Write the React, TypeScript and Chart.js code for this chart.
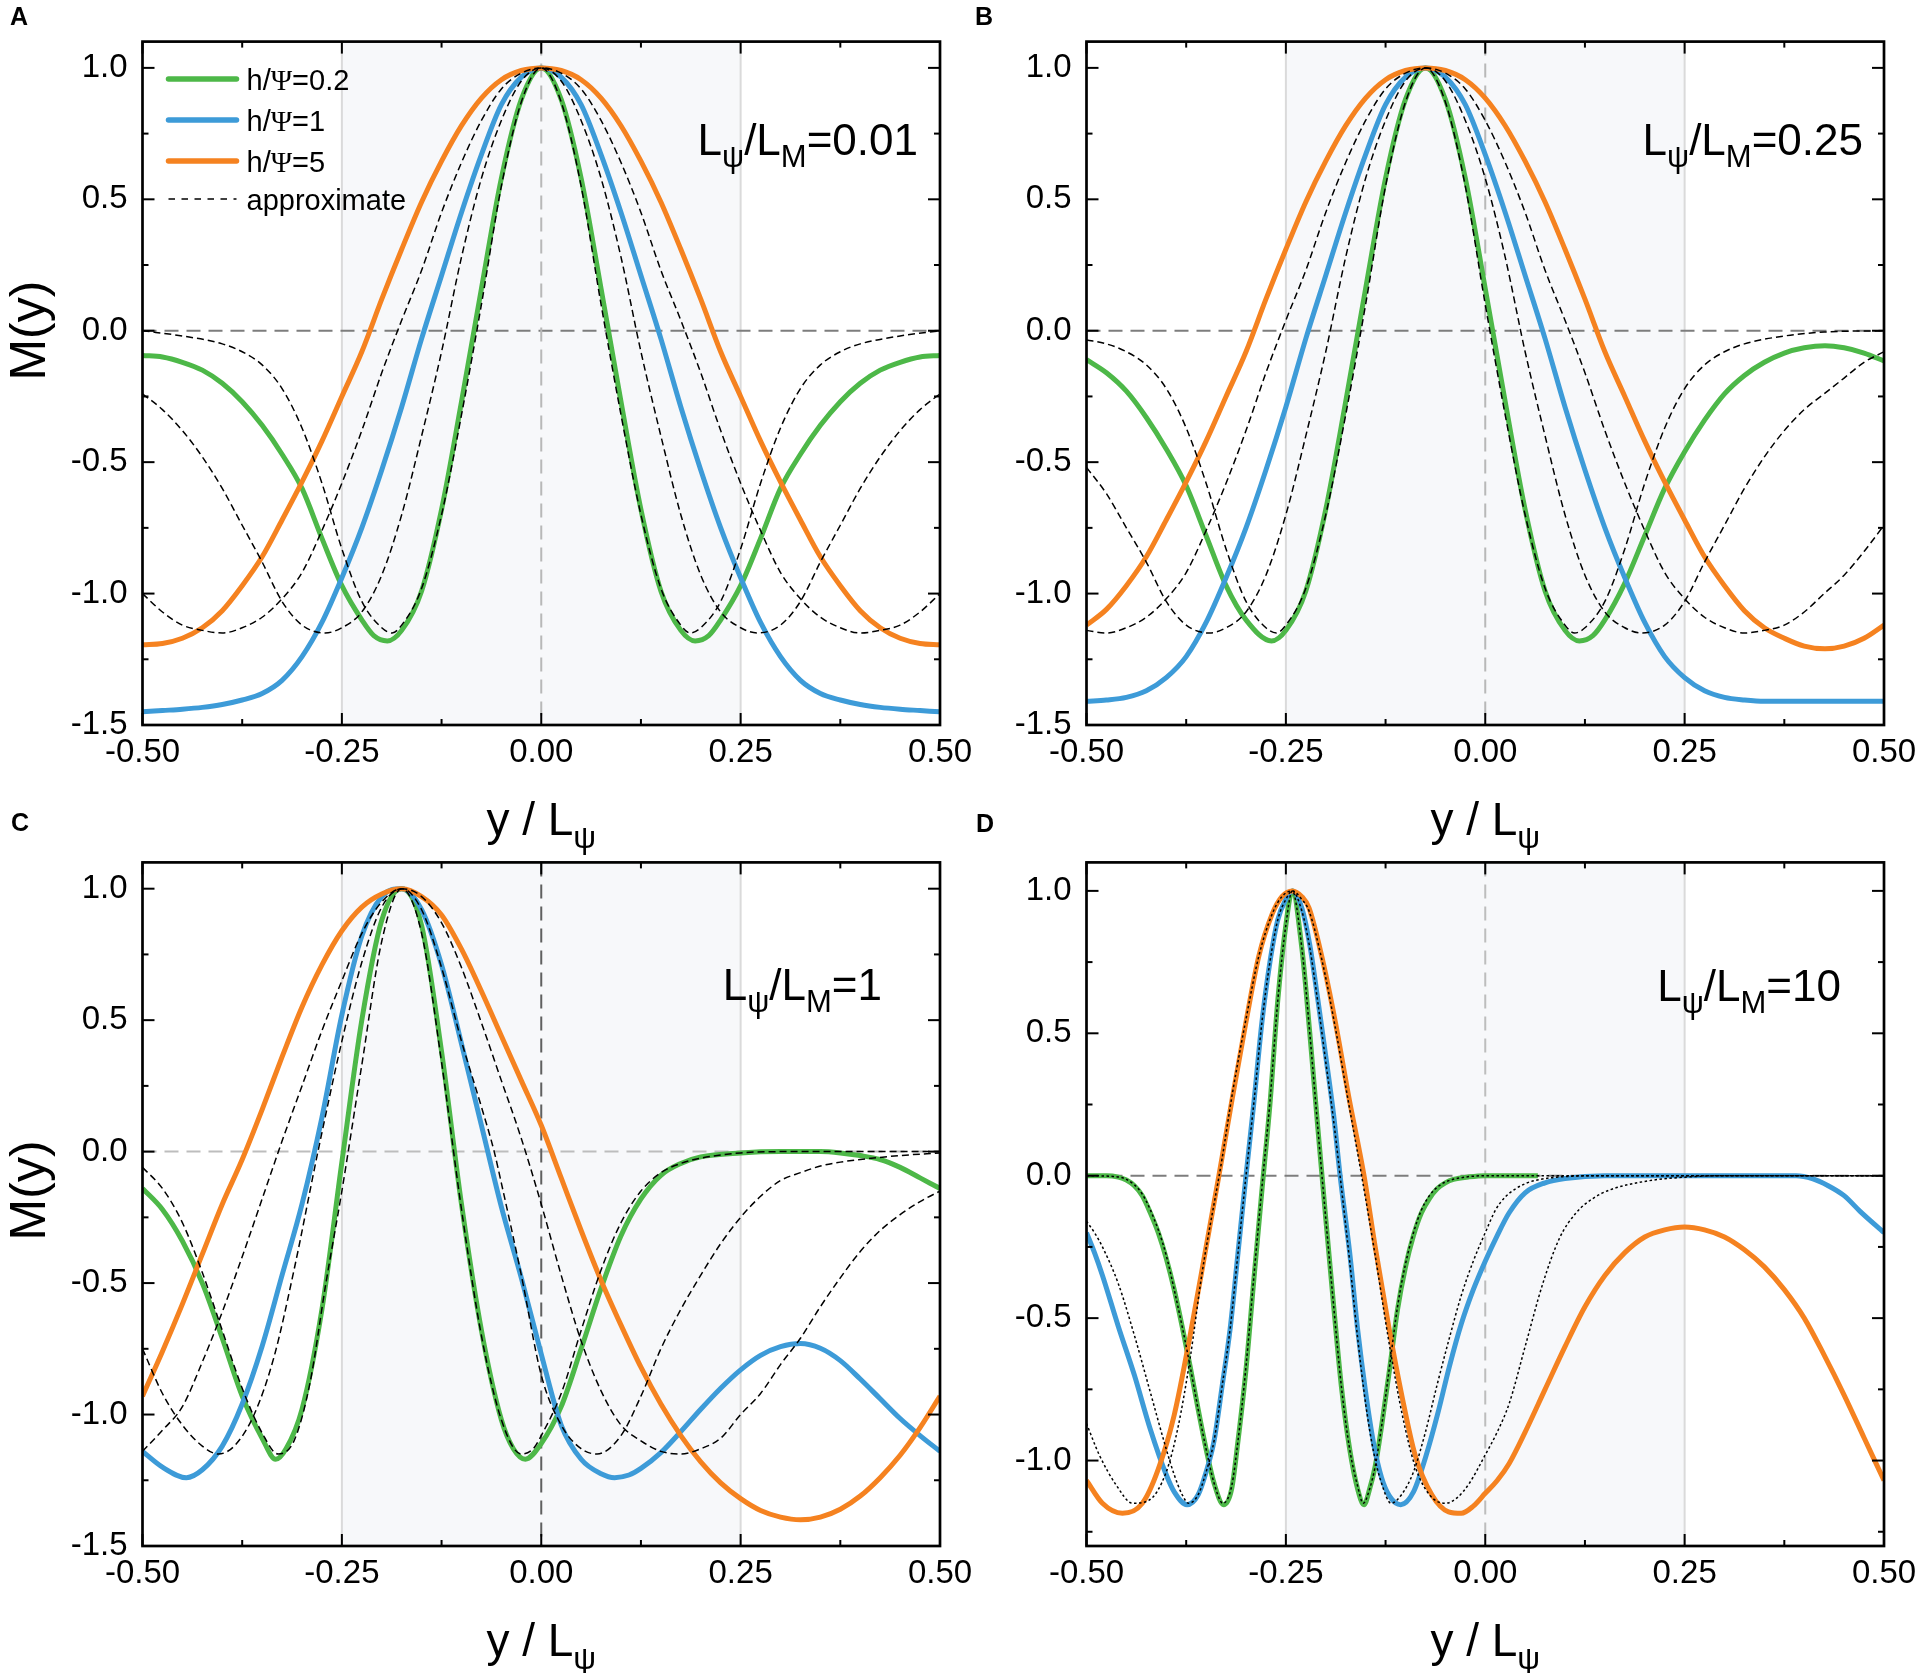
import { useEffect, useRef } from 'react';
import { Chart, registerables } from 'chart.js';
Chart.register(...registerables);

const SANS = "'Liberation Sans', Arial, sans-serif";
const SERIF = "'Liberation Serif', 'Times New Roman', serif";
Chart.defaults.font.family = SANS;

const GREEN = '#4db848';
const BLUE = '#3d9bd8';
const ORANGE = '#f58220';

// axis ticks
const xTicks = [-0.5, -0.25, 0, 0.25, 0.5];
const xMinorTicks = [-0.375, -0.125, 0.125, 0.375];
const yTicks = [-1.5, -1, -0.5, 0, 0.5, 1];
const yTicksD = [-1, -0.5, 0, 0.5, 1];
const yMinorTicks = [-1.25, -0.75, -0.25, 0.25, 0.75];
const bandEdges = [-0.25, 0.25];

// legend / panel labels
const seriesLabels = ['h/Ψ=0.2', 'h/Ψ=1', 'h/Ψ=5'];
const approxLabel = 'approximate';
const ratioLabels = ['0.01', '0.25', '1', '10'];

type Pt = [number, number];

// ---------- panel A : L_psi/L_M = 0.01 ----------
const A_green: Pt[] = [[-0.5,-0.094],[-0.475,-0.1],[-0.45,-0.12],[-0.425,-0.15],[-0.4,-0.2],[-0.375,-0.27],[-0.35,-0.36],[-0.325,-0.47],[-0.3,-0.6],[-0.275,-0.79],[-0.25,-0.97],[-0.225,-1.1],[-0.21,-1.16],[-0.193,-1.18],[-0.175,-1.14],[-0.15,-0.99],[-0.125,-0.68],[-0.1,-0.27],[-0.075,0.16],[-0.05,0.58],[-0.025,0.88],[0,1],[0.025,0.88],[0.05,0.58],[0.075,0.16],[0.1,-0.27],[0.125,-0.68],[0.15,-0.99],[0.175,-1.14],[0.193,-1.18],[0.21,-1.16],[0.225,-1.1],[0.25,-0.97],[0.275,-0.79],[0.3,-0.6],[0.325,-0.47],[0.35,-0.36],[0.375,-0.27],[0.4,-0.2],[0.425,-0.15],[0.45,-0.12],[0.475,-0.1],[0.5,-0.094]];
const A_blue: Pt[] = [[-0.5,-1.45],[-0.475,-1.445],[-0.45,-1.44],[-0.425,-1.433],[-0.4,-1.422],[-0.375,-1.405],[-0.35,-1.38],[-0.325,-1.33],[-0.3,-1.24],[-0.275,-1.11],[-0.25,-0.94],[-0.225,-0.75],[-0.2,-0.53],[-0.175,-0.29],[-0.15,-0.03],[-0.125,0.21],[-0.1,0.45],[-0.075,0.67],[-0.05,0.86],[-0.025,0.965],[0,1],[0.025,0.965],[0.05,0.86],[0.075,0.67],[0.1,0.45],[0.125,0.21],[0.15,-0.03],[0.175,-0.29],[0.2,-0.53],[0.225,-0.75],[0.25,-0.94],[0.275,-1.11],[0.3,-1.24],[0.325,-1.33],[0.35,-1.38],[0.375,-1.405],[0.4,-1.422],[0.425,-1.433],[0.45,-1.44],[0.475,-1.445],[0.5,-1.45]];
const A_orange: Pt[] = [[-0.5,-1.195],[-0.475,-1.19],[-0.45,-1.17],[-0.425,-1.13],[-0.4,-1.065],[-0.375,-0.97],[-0.35,-0.86],[-0.325,-0.72],[-0.3,-0.575],[-0.275,-0.42],[-0.25,-0.25],[-0.225,-0.08],[-0.2,0.12],[-0.175,0.31],[-0.15,0.49],[-0.125,0.645],[-0.1,0.78],[-0.075,0.885],[-0.05,0.955],[-0.025,0.99],[0,1],[0.025,0.99],[0.05,0.955],[0.075,0.885],[0.1,0.78],[0.125,0.645],[0.15,0.49],[0.175,0.31],[0.2,0.12],[0.225,-0.08],[0.25,-0.25],[0.275,-0.42],[0.3,-0.575],[0.325,-0.72],[0.35,-0.86],[0.375,-0.97],[0.4,-1.065],[0.425,-1.13],[0.45,-1.17],[0.475,-1.19],[0.5,-1.195]];
const A_approx1: Pt[] = [[-0.5,0],[-0.45,-0.02],[-0.4,-0.05],[-0.375,-0.08],[-0.35,-0.13],[-0.325,-0.22],[-0.3,-0.37],[-0.275,-0.58],[-0.25,-0.83],[-0.225,-1.03],[-0.2,-1.13],[-0.187,-1.15],[-0.175,-1.12],[-0.15,-0.98],[-0.125,-0.7],[-0.1,-0.32],[-0.075,0.1],[-0.05,0.55],[-0.025,0.87],[0,1],[0.025,0.87],[0.05,0.55],[0.075,0.1],[0.1,-0.32],[0.125,-0.7],[0.15,-0.98],[0.175,-1.12],[0.187,-1.15],[0.2,-1.13],[0.225,-1.03],[0.25,-0.83],[0.275,-0.58],[0.3,-0.37],[0.325,-0.22],[0.35,-0.13],[0.375,-0.08],[0.4,-0.05],[0.45,-0.02],[0.5,0]];
const A_approx2: Pt[] = [[-0.5,-0.24],[-0.475,-0.3],[-0.45,-0.38],[-0.425,-0.48],[-0.4,-0.6],[-0.375,-0.74],[-0.35,-0.88],[-0.325,-1.03],[-0.3,-1.12],[-0.271,-1.15],[-0.25,-1.13],[-0.225,-1.07],[-0.2,-0.93],[-0.175,-0.7],[-0.15,-0.4],[-0.125,-0.08],[-0.1,0.28],[-0.075,0.58],[-0.05,0.8],[-0.025,0.95],[0,1],[0.025,0.95],[0.05,0.8],[0.075,0.58],[0.1,0.28],[0.125,-0.08],[0.15,-0.4],[0.175,-0.7],[0.2,-0.93],[0.225,-1.07],[0.25,-1.13],[0.271,-1.15],[0.3,-1.12],[0.325,-1.03],[0.35,-0.88],[0.375,-0.74],[0.4,-0.6],[0.425,-0.48],[0.45,-0.38],[0.475,-0.3],[0.5,-0.24]];
const A_approx3: Pt[] = [[-0.5,-1.0],[-0.475,-1.07],[-0.45,-1.12],[-0.425,-1.14],[-0.4,-1.15],[-0.375,-1.13],[-0.35,-1.09],[-0.325,-1.02],[-0.3,-0.92],[-0.275,-0.76],[-0.25,-0.58],[-0.225,-0.38],[-0.2,-0.16],[-0.175,0.04],[-0.15,0.23],[-0.125,0.45],[-0.1,0.64],[-0.075,0.8],[-0.05,0.92],[-0.025,0.98],[0,1],[0.025,0.98],[0.05,0.92],[0.075,0.8],[0.1,0.64],[0.125,0.45],[0.15,0.23],[0.175,0.04],[0.2,-0.16],[0.225,-0.38],[0.25,-0.58],[0.275,-0.76],[0.3,-0.92],[0.325,-1.02],[0.35,-1.09],[0.375,-1.13],[0.4,-1.15],[0.425,-1.14],[0.45,-1.12],[0.475,-1.07],[0.5,-1.0]];

// ---------- panel B : L_psi/L_M = 0.25 ----------
const B_green: Pt[] = [[-0.5,-0.11],[-0.475,-0.16],[-0.45,-0.23],[-0.425,-0.33],[-0.4,-0.45],[-0.375,-0.59],[-0.35,-0.78],[-0.325,-0.97],[-0.3,-1.1],[-0.268,-1.18],[-0.25,-1.14],[-0.225,-0.99],[-0.2,-0.68],[-0.175,-0.27],[-0.15,0.16],[-0.125,0.58],[-0.1,0.88],[-0.075,1],[-0.05,0.88],[-0.025,0.58],[0,0.16],[0.025,-0.27],[0.05,-0.68],[0.075,-0.99],[0.1,-1.14],[0.118,-1.18],[0.135,-1.16],[0.15,-1.1],[0.175,-0.96],[0.2,-0.78],[0.225,-0.6],[0.25,-0.46],[0.275,-0.34],[0.3,-0.24],[0.325,-0.17],[0.35,-0.12],[0.375,-0.085],[0.4,-0.065],[0.426,-0.057],[0.45,-0.065],[0.475,-0.085],[0.5,-0.115]];
const B_blue: Pt[] = [[-0.5,-1.41],[-0.475,-1.405],[-0.45,-1.395],[-0.425,-1.37],[-0.4,-1.32],[-0.375,-1.24],[-0.35,-1.11],[-0.325,-0.94],[-0.3,-0.75],[-0.275,-0.53],[-0.25,-0.29],[-0.225,-0.03],[-0.2,0.21],[-0.175,0.45],[-0.15,0.67],[-0.125,0.86],[-0.1,0.965],[-0.075,1],[-0.05,0.965],[-0.025,0.86],[0,0.67],[0.025,0.45],[0.05,0.21],[0.075,-0.03],[0.1,-0.29],[0.125,-0.53],[0.15,-0.75],[0.175,-0.94],[0.2,-1.11],[0.225,-1.24],[0.25,-1.32],[0.275,-1.37],[0.3,-1.395],[0.325,-1.405],[0.35,-1.41],[0.4,-1.41],[0.45,-1.41],[0.5,-1.41]];
const B_orange: Pt[] = [[-0.5,-1.12],[-0.475,-1.06],[-0.45,-0.97],[-0.425,-0.86],[-0.4,-0.72],[-0.375,-0.575],[-0.35,-0.42],[-0.325,-0.25],[-0.3,-0.08],[-0.275,0.12],[-0.25,0.31],[-0.225,0.49],[-0.2,0.645],[-0.175,0.78],[-0.15,0.885],[-0.125,0.955],[-0.1,0.99],[-0.075,1],[-0.05,0.99],[-0.025,0.955],[0,0.885],[0.025,0.78],[0.05,0.645],[0.075,0.49],[0.1,0.31],[0.125,0.12],[0.15,-0.08],[0.175,-0.25],[0.2,-0.42],[0.225,-0.575],[0.25,-0.72],[0.275,-0.86],[0.3,-0.97],[0.325,-1.065],[0.35,-1.13],[0.375,-1.17],[0.4,-1.2],[0.426,-1.21],[0.45,-1.2],[0.475,-1.17],[0.5,-1.12]];
const B_approx1: Pt[] = [[-0.5,-0.035],[-0.475,-0.05],[-0.45,-0.08],[-0.425,-0.13],[-0.4,-0.22],[-0.375,-0.37],[-0.35,-0.58],[-0.325,-0.83],[-0.3,-1.03],[-0.275,-1.13],[-0.262,-1.15],[-0.25,-1.12],[-0.225,-0.98],[-0.2,-0.7],[-0.175,-0.32],[-0.15,0.1],[-0.125,0.55],[-0.1,0.87],[-0.075,1],[-0.05,0.87],[-0.025,0.55],[0,0.1],[0.025,-0.32],[0.05,-0.7],[0.075,-0.98],[0.1,-1.12],[0.112,-1.15],[0.125,-1.13],[0.15,-1.03],[0.175,-0.83],[0.2,-0.58],[0.225,-0.37],[0.25,-0.22],[0.275,-0.13],[0.3,-0.08],[0.325,-0.05],[0.375,-0.02],[0.425,-0.005],[0.5,0]];
const B_approx2: Pt[] = [[-0.5,-0.52],[-0.475,-0.62],[-0.45,-0.75],[-0.425,-0.88],[-0.4,-1.03],[-0.375,-1.12],[-0.346,-1.15],[-0.325,-1.13],[-0.3,-1.07],[-0.275,-0.93],[-0.25,-0.7],[-0.225,-0.4],[-0.2,-0.08],[-0.175,0.28],[-0.15,0.58],[-0.125,0.8],[-0.1,0.95],[-0.075,1],[-0.05,0.95],[-0.025,0.8],[0,0.58],[0.025,0.28],[0.05,-0.08],[0.075,-0.4],[0.1,-0.7],[0.125,-0.93],[0.15,-1.07],[0.175,-1.13],[0.196,-1.15],[0.225,-1.12],[0.25,-1.03],[0.275,-0.88],[0.3,-0.74],[0.325,-0.6],[0.35,-0.48],[0.375,-0.38],[0.4,-0.3],[0.425,-0.24],[0.45,-0.18],[0.475,-0.12],[0.5,-0.08]];
const B_approx3: Pt[] = [[-0.5,-1.14],[-0.475,-1.15],[-0.45,-1.13],[-0.425,-1.09],[-0.4,-1.02],[-0.375,-0.92],[-0.35,-0.76],[-0.325,-0.58],[-0.3,-0.38],[-0.275,-0.16],[-0.25,0.04],[-0.225,0.23],[-0.2,0.45],[-0.175,0.64],[-0.15,0.8],[-0.125,0.92],[-0.1,0.98],[-0.075,1],[-0.05,0.98],[-0.025,0.92],[0,0.8],[0.025,0.64],[0.05,0.45],[0.075,0.23],[0.1,0.04],[0.125,-0.16],[0.15,-0.38],[0.175,-0.58],[0.2,-0.76],[0.225,-0.92],[0.25,-1.02],[0.275,-1.09],[0.3,-1.13],[0.325,-1.15],[0.35,-1.14],[0.375,-1.12],[0.4,-1.07],[0.425,-1.0],[0.45,-0.93],[0.475,-0.84],[0.5,-0.74]];

// ---------- panel C : L_psi/L_M = 1 ----------
const C_green: Pt[] = [[-0.5,-0.14],[-0.475,-0.22],[-0.45,-0.34],[-0.425,-0.5],[-0.4,-0.71],[-0.375,-0.93],[-0.35,-1.09],[-0.333,-1.17],[-0.32,-1.13],[-0.3,-0.98],[-0.275,-0.6],[-0.25,-0.04],[-0.225,0.5],[-0.2,0.88],[-0.175,1],[-0.15,0.86],[-0.125,0.38],[-0.1,-0.2],[-0.075,-0.68],[-0.05,-1.02],[-0.035,-1.13],[-0.02,-1.17],[0,-1.11],[0.025,-0.97],[0.05,-0.75],[0.075,-0.52],[0.1,-0.32],[0.125,-0.18],[0.15,-0.09],[0.175,-0.045],[0.2,-0.02],[0.25,-0.005],[0.3,0],[0.35,0],[0.375,-0.005],[0.4,-0.015],[0.425,-0.03],[0.45,-0.06],[0.475,-0.1],[0.5,-0.14]];
const C_blue: Pt[] = [[-0.5,-1.14],[-0.475,-1.2],[-0.445,-1.24],[-0.425,-1.21],[-0.4,-1.12],[-0.375,-0.96],[-0.35,-0.74],[-0.325,-0.47],[-0.3,-0.2],[-0.275,0.13],[-0.25,0.52],[-0.225,0.82],[-0.2,0.97],[-0.175,1],[-0.15,0.92],[-0.125,0.71],[-0.1,0.41],[-0.075,0.1],[-0.05,-0.21],[-0.025,-0.48],[0,-0.77],[0.025,-1.04],[0.05,-1.17],[0.075,-1.225],[0.092,-1.24],[0.11,-1.23],[0.125,-1.205],[0.15,-1.145],[0.175,-1.065],[0.2,-0.98],[0.225,-0.9],[0.25,-0.83],[0.275,-0.775],[0.3,-0.742],[0.325,-0.73],[0.35,-0.748],[0.375,-0.795],[0.4,-0.865],[0.425,-0.94],[0.45,-1.015],[0.475,-1.08],[0.5,-1.14]];
const C_orange: Pt[] = [[-0.5,-0.93],[-0.475,-0.76],[-0.45,-0.58],[-0.425,-0.39],[-0.4,-0.2],[-0.375,-0.03],[-0.35,0.16],[-0.325,0.36],[-0.3,0.55],[-0.275,0.71],[-0.25,0.84],[-0.225,0.93],[-0.2,0.98],[-0.175,1],[-0.15,0.97],[-0.125,0.9],[-0.1,0.77],[-0.075,0.61],[-0.05,0.44],[-0.025,0.27],[0,0.1],[0.025,-0.1],[0.05,-0.3],[0.075,-0.49],[0.1,-0.66],[0.125,-0.82],[0.15,-0.96],[0.175,-1.08],[0.2,-1.18],[0.225,-1.26],[0.25,-1.32],[0.275,-1.365],[0.3,-1.39],[0.325,-1.4],[0.35,-1.39],[0.375,-1.36],[0.4,-1.31],[0.425,-1.24],[0.45,-1.155],[0.475,-1.05],[0.5,-0.93]];
const C_approx1: Pt[] = [[-0.5,-0.06],[-0.475,-0.14],[-0.45,-0.27],[-0.425,-0.46],[-0.4,-0.68],[-0.375,-0.9],[-0.35,-1.07],[-0.33,-1.15],[-0.31,-1.1],[-0.29,-0.88],[-0.27,-0.5],[-0.25,-0.15],[-0.225,0.33],[-0.2,0.8],[-0.175,1],[-0.15,0.83],[-0.125,0.34],[-0.1,-0.22],[-0.075,-0.7],[-0.05,-1.02],[-0.025,-1.15],[-0.01,-1.13],[0,-1.08],[0.025,-0.92],[0.05,-0.68],[0.075,-0.45],[0.1,-0.27],[0.125,-0.15],[0.15,-0.08],[0.175,-0.045],[0.2,-0.025],[0.25,-0.005],[0.3,0],[0.5,0]];
const C_approx2: Pt[] = [[-0.5,-0.75],[-0.475,-0.92],[-0.45,-1.04],[-0.425,-1.12],[-0.405,-1.15],[-0.385,-1.12],[-0.36,-1.0],[-0.335,-0.78],[-0.31,-0.45],[-0.28,0],[-0.25,0.42],[-0.225,0.72],[-0.2,0.93],[-0.175,1],[-0.15,0.92],[-0.125,0.7],[-0.1,0.42],[-0.075,0.17],[-0.059,0],[-0.05,-0.12],[-0.025,-0.47],[0,-0.85],[0.025,-1.04],[0.05,-1.13],[0.07,-1.15],[0.1,-1.08],[0.125,-0.93],[0.15,-0.75],[0.175,-0.6],[0.2,-0.47],[0.225,-0.35],[0.25,-0.25],[0.275,-0.17],[0.3,-0.11],[0.325,-0.08],[0.35,-0.055],[0.375,-0.04],[0.4,-0.03],[0.45,-0.015],[0.5,-0.005]];
const C_approx3: Pt[] = [[-0.5,-1.14],[-0.475,-1.06],[-0.45,-0.97],[-0.425,-0.8],[-0.4,-0.61],[-0.375,-0.4],[-0.35,-0.18],[-0.325,0.04],[-0.3,0.25],[-0.275,0.46],[-0.25,0.65],[-0.225,0.83],[-0.2,0.95],[-0.175,1],[-0.15,0.97],[-0.125,0.87],[-0.1,0.7],[-0.075,0.49],[-0.05,0.27],[-0.025,0.05],[0,-0.2],[0.025,-0.47],[0.05,-0.72],[0.075,-0.91],[0.1,-1.04],[0.125,-1.1],[0.15,-1.14],[0.175,-1.15],[0.2,-1.13],[0.225,-1.09],[0.25,-1.0],[0.275,-0.92],[0.3,-0.81],[0.325,-0.71],[0.35,-0.59],[0.375,-0.48],[0.4,-0.38],[0.425,-0.3],[0.45,-0.24],[0.475,-0.19],[0.5,-0.15]];

// ---------- panel D : L_psi/L_M = 10 ----------
const D_green: Pt[] = [[-0.5,0],[-0.475,0],[-0.46,-0.005],[-0.45,-0.015],[-0.44,-0.035],[-0.43,-0.07],[-0.42,-0.13],[-0.41,-0.2],[-0.4,-0.29],[-0.39,-0.4],[-0.38,-0.53],[-0.37,-0.67],[-0.36,-0.82],[-0.35,-0.96],[-0.34,-1.08],[-0.328,-1.155],[-0.318,-1.1],[-0.31,-0.93],[-0.3,-0.68],[-0.29,-0.36],[-0.28,-0.05],[-0.27,0.25],[-0.26,0.62],[-0.25,0.88],[-0.242,1],[-0.23,0.8],[-0.22,0.5],[-0.21,0.17],[-0.2,-0.15],[-0.19,-0.46],[-0.18,-0.75],[-0.17,-0.96],[-0.16,-1.1],[-0.152,-1.155],[-0.145,-1.1],[-0.138,-1.02],[-0.13,-0.88],[-0.12,-0.68],[-0.11,-0.47],[-0.1,-0.32],[-0.09,-0.21],[-0.08,-0.13],[-0.07,-0.08],[-0.06,-0.045],[-0.05,-0.025],[-0.04,-0.013],[-0.02,-0.004],[0,0],[0.066,0]];
const D_blue: Pt[] = [[-0.5,-0.2],[-0.49,-0.27],[-0.48,-0.35],[-0.46,-0.53],[-0.44,-0.7],[-0.42,-0.89],[-0.4,-1.05],[-0.39,-1.11],[-0.374,-1.155],[-0.36,-1.12],[-0.35,-1.04],[-0.34,-0.93],[-0.33,-0.74],[-0.32,-0.54],[-0.31,-0.27],[-0.3,0],[-0.29,0.26],[-0.28,0.54],[-0.27,0.75],[-0.26,0.9],[-0.25,0.97],[-0.242,1],[-0.23,0.94],[-0.22,0.81],[-0.21,0.62],[-0.2,0.42],[-0.19,0.21],[-0.182,0],[-0.17,-0.27],[-0.16,-0.54],[-0.15,-0.76],[-0.14,-0.94],[-0.13,-1.06],[-0.12,-1.125],[-0.106,-1.155],[-0.09,-1.11],[-0.075,-0.99],[-0.06,-0.84],[-0.045,-0.67],[-0.03,-0.52],[-0.015,-0.4],[0,-0.3],[0.015,-0.21],[0.03,-0.13],[0.05,-0.06],[0.075,-0.025],[0.1,-0.01],[0.15,0],[0.39,0],[0.41,-0.01],[0.43,-0.035],[0.45,-0.07],[0.47,-0.125],[0.5,-0.2]];
const D_orange: Pt[] = [[-0.5,-1.07],[-0.48,-1.15],[-0.455,-1.185],[-0.43,-1.15],[-0.41,-1.03],[-0.39,-0.84],[-0.37,-0.56],[-0.35,-0.25],[-0.334,0],[-0.317,0.275],[-0.3,0.54],[-0.284,0.77],[-0.267,0.92],[-0.255,0.98],[-0.242,1],[-0.23,0.98],[-0.221,0.94],[-0.205,0.77],[-0.188,0.54],[-0.171,0.275],[-0.152,0],[-0.138,-0.25],[-0.121,-0.53],[-0.104,-0.78],[-0.088,-0.98],[-0.067,-1.12],[-0.046,-1.18],[-0.03,-1.185],[-0.015,-1.16],[0,-1.115],[0.015,-1.07],[0.03,-1.01],[0.05,-0.9],[0.075,-0.75],[0.1,-0.6],[0.125,-0.46],[0.15,-0.35],[0.175,-0.27],[0.2,-0.215],[0.225,-0.19],[0.25,-0.18],[0.275,-0.19],[0.3,-0.215],[0.325,-0.26],[0.35,-0.32],[0.375,-0.4],[0.4,-0.5],[0.425,-0.63],[0.45,-0.77],[0.475,-0.92],[0.5,-1.07]];
const D_approx1: Pt[] = [[-0.5,0],[-0.47,-0.002],[-0.45,-0.013],[-0.43,-0.065],[-0.41,-0.19],[-0.4,-0.28],[-0.39,-0.4],[-0.38,-0.53],[-0.37,-0.67],[-0.36,-0.82],[-0.35,-0.96],[-0.34,-1.08],[-0.329,-1.15],[-0.318,-1.09],[-0.31,-0.93],[-0.3,-0.67],[-0.29,-0.35],[-0.28,-0.04],[-0.27,0.26],[-0.26,0.62],[-0.25,0.88],[-0.242,1],[-0.23,0.8],[-0.22,0.5],[-0.21,0.17],[-0.2,-0.15],[-0.19,-0.46],[-0.18,-0.75],[-0.17,-0.96],[-0.16,-1.09],[-0.153,-1.15],[-0.145,-1.1],[-0.138,-1.02],[-0.13,-0.88],[-0.12,-0.67],[-0.11,-0.46],[-0.1,-0.31],[-0.09,-0.2],[-0.08,-0.12],[-0.07,-0.07],[-0.06,-0.04],[-0.05,-0.022],[-0.03,-0.007],[0,0],[0.5,0]];
const D_approx2: Pt[] = [[-0.5,-0.16],[-0.49,-0.2],[-0.48,-0.25],[-0.46,-0.38],[-0.44,-0.56],[-0.42,-0.76],[-0.4,-0.96],[-0.39,-1.05],[-0.38,-1.12],[-0.372,-1.15],[-0.36,-1.12],[-0.35,-1.04],[-0.34,-0.93],[-0.33,-0.74],[-0.32,-0.54],[-0.31,-0.27],[-0.3,0],[-0.29,0.26],[-0.28,0.54],[-0.27,0.75],[-0.26,0.9],[-0.25,0.97],[-0.242,1],[-0.23,0.93],[-0.22,0.8],[-0.21,0.61],[-0.2,0.4],[-0.19,0.19],[-0.18,-0.05],[-0.17,-0.3],[-0.16,-0.57],[-0.15,-0.8],[-0.14,-0.97],[-0.13,-1.08],[-0.118,-1.15],[-0.105,-1.12],[-0.09,-1.04],[-0.075,-0.9],[-0.06,-0.73],[-0.045,-0.57],[-0.03,-0.42],[-0.015,-0.3],[0,-0.2],[0.013,-0.12],[0.025,-0.075],[0.05,-0.028],[0.075,-0.01],[0.1,-0.003],[0.15,0],[0.5,0]];
const D_approx3: Pt[] = [[-0.5,-0.87],[-0.484,-0.98],[-0.463,-1.085],[-0.442,-1.15],[-0.422,-1.14],[-0.4,-1.04],[-0.385,-0.88],[-0.37,-0.64],[-0.355,-0.34],[-0.33,0.06],[-0.317,0.29],[-0.3,0.55],[-0.284,0.77],[-0.267,0.92],[-0.255,0.98],[-0.242,1],[-0.23,0.97],[-0.221,0.93],[-0.205,0.76],[-0.188,0.52],[-0.171,0.25],[-0.155,0],[-0.138,-0.28],[-0.121,-0.58],[-0.104,-0.84],[-0.088,-1.02],[-0.07,-1.12],[-0.05,-1.15],[-0.035,-1.13],[-0.02,-1.08],[0,-0.98],[0.015,-0.9],[0.03,-0.8],[0.05,-0.6],[0.072,-0.38],[0.093,-0.22],[0.114,-0.13],[0.135,-0.08],[0.156,-0.05],[0.2,-0.02],[0.25,-0.005],[0.3,0],[0.5,0]];

type Panel = {
  letter: string;
  left: number; top: number; w: number; h: number;
  padTop: number; padRight: number; yAxisW: number; xAxisH: number;
  yMin: number; yMajor: number[];
  green: Pt[]; blue: Pt[]; orange: Pt[]; approx: Pt[][];
  approxDash: number[];
  ratio: string; noteRight: number; noteTop: number;
  yTitleY: number | null; legend: boolean;
  hZero: string; vZero: string;
  letterPos: [number, number];
};

const PANELS: Panel[] = [
  { letter: 'A', left: 0, top: 0, w: 1000, h: 860, padTop: 41.6, padRight: 60, yAxisW: 142.5, xAxisH: 135,
    yMin: -1.5, yMajor: yTicks, green: A_green, blue: A_blue, orange: A_orange, approx: [A_approx1, A_approx2, A_approx3],
    approxDash: [7, 4], ratio: ratioLabels[0], noteRight: 22, noteTop: 113, yTitleY: 289, legend: true,
    hZero: '#7d7d7d', vZero: '#b8b8b8', letterPos: [10, 4] },
  { letter: 'B', left: 944, top: 0, w: 982, h: 860, padTop: 41.6, padRight: 42, yAxisW: 142.5, xAxisH: 135,
    yMin: -1.5, yMajor: yTicks, green: B_green, blue: B_blue, orange: B_orange, approx: [B_approx1, B_approx2, B_approx3],
    approxDash: [7, 4], ratio: ratioLabels[1], noteRight: 21, noteTop: 113, yTitleY: null, legend: false,
    hZero: '#7d7d7d', vZero: '#b8b8b8', letterPos: [975, 4] },
  { letter: 'C', left: 0, top: 820, w: 1000, h: 853, padTop: 42.4, padRight: 60, yAxisW: 142.5, xAxisH: 127,
    yMin: -1.5, yMajor: yTicks, green: C_green, blue: C_blue, orange: C_orange, approx: [C_approx1, C_approx2, C_approx3],
    approxDash: [7, 4], ratio: ratioLabels[2], noteRight: 58, noteTop: 138, yTitleY: 328, legend: false,
    hZero: '#bdbdbd', vZero: '#606060', letterPos: [11, 810] },
  { letter: 'D', left: 944, top: 820, w: 982, h: 853, padTop: 42.4, padRight: 42, yAxisW: 142.5, xAxisH: 127,
    yMin: -1.3, yMajor: yTicksD, green: D_green, blue: D_blue, orange: D_orange, approx: [D_approx1, D_approx2, D_approx3],
    approxDash: [2.5, 2.5], ratio: ratioLabels[3], noteRight: 43, noteTop: 139, yTitleY: null, legend: false,
    hZero: '#7d7d7d', vZero: '#bdbdbd', letterPos: [976, 811] },
];

type Part = { t: string; font: string; dy?: number };

function drawRich(ctx: CanvasRenderingContext2D, parts: Part[], x: number, y: number, align: 'left' | 'center' | 'right') {
  const widths = parts.map((p) => { ctx.font = p.font; return ctx.measureText(p.t).width; });
  const total = widths.reduce((s, v) => s + v, 0);
  let cx = align === 'right' ? x - total : align === 'center' ? x - total / 2 : x;
  ctx.textAlign = 'left';
  ctx.textBaseline = 'alphabetic';
  parts.forEach((p, i) => {
    ctx.font = p.font;
    ctx.fillText(p.t, cx, y + (p.dy || 0));
    cx += widths[i];
  });
}

function seg(ctx: CanvasRenderingContext2D, x0: number, y0: number, x1: number, y1: number) {
  ctx.beginPath();
  ctx.moveTo(x0, y0);
  ctx.lineTo(x1, y1);
  ctx.stroke();
}

function makeDecor(p: Panel) {
  return {
    id: 'decor',
    beforeDatasetsDraw(chart: any) {
      const { ctx, chartArea: a, scales } = chart;
      const x = scales.x, y = scales.y;
      ctx.save();
      const b0 = x.getPixelForValue(bandEdges[0]);
      const b1 = x.getPixelForValue(bandEdges[1]);
      ctx.fillStyle = '#f7f8fa';
      ctx.fillRect(b0, a.top, b1 - b0, a.bottom - a.top);
      ctx.strokeStyle = '#dadada';
      ctx.lineWidth = 2;
      bandEdges.forEach((v) => { const px = x.getPixelForValue(v); seg(ctx, px, a.top, px, a.bottom); });
      ctx.lineWidth = 2;
      ctx.setLineDash([14, 8]);
      const y0 = y.getPixelForValue(0);
      ctx.strokeStyle = p.hZero;
      seg(ctx, a.left, y0, a.right, y0);
      const x0 = x.getPixelForValue(0);
      ctx.strokeStyle = p.vZero;
      seg(ctx, x0, a.top, x0, a.bottom);
      ctx.restore();
    },
    afterDatasetsDraw(chart: any) {
      const { ctx, chartArea: a, scales } = chart;
      const x = scales.x, y = scales.y;
      ctx.save();
      // frame
      ctx.strokeStyle = '#000';
      ctx.lineWidth = 2.7;
      ctx.strokeRect(a.left, a.top, a.right - a.left, a.bottom - a.top);
      // inward ticks on all sides
      ctx.lineWidth = 2;
      const xt = (vals: number[], len: number) => vals.forEach((v) => {
        const px = x.getPixelForValue(v);
        seg(ctx, px, a.bottom, px, a.bottom - len);
        seg(ctx, px, a.top, px, a.top + len);
      });
      const yt = (vals: number[], len: number) => vals.forEach((v) => {
        if (v < p.yMin || v > 1.1) return;
        const py = y.getPixelForValue(v);
        seg(ctx, a.left, py, a.left + len, py);
        seg(ctx, a.right, py, a.right - len, py);
      });
      xt(xTicks, 12); xt(xMinorTicks, 6);
      yt(p.yMajor, 12); yt(yMinorTicks, 6);

      ctx.fillStyle = '#000';
      // ratio annotation
      drawRich(ctx, [
        { t: 'L', font: `44px ${SANS}` },
        { t: 'ψ', font: `31px ${SANS}`, dy: 12 },
        { t: '/L', font: `44px ${SANS}` },
        { t: 'M', font: `31px ${SANS}`, dy: 12 },
        { t: '=' + p.ratio, font: `44px ${SANS}` },
      ], a.right - p.noteRight, a.top + p.noteTop, 'right');

      // x axis title
      drawRich(ctx, [
        { t: 'y / L', font: `46px ${SANS}` },
        { t: 'ψ', font: `32px ${SANS}`, dy: 13 },
      ], (a.left + a.right) / 2, a.bottom + 110, 'center');

      // y axis title
      if (p.yTitleY !== null) {
        ctx.save();
        ctx.translate(31, a.top + p.yTitleY);
        ctx.rotate(-Math.PI / 2);
        ctx.font = `50px ${SANS}`;
        ctx.textAlign = 'center';
        ctx.textBaseline = 'middle';
        ctx.fillText('M(y)', 0, 0);
        ctx.restore();
      }

      // legend
      if (p.legend) {
        const rows = [
          { color: GREEN, dash: [] as number[], width: 5.5, label: seriesLabels[0] },
          { color: BLUE, dash: [] as number[], width: 5.5, label: seriesLabels[1] },
          { color: ORANGE, dash: [] as number[], width: 5.5, label: seriesLabels[2] },
          { color: '#000', dash: [6.5, 6.5], width: 1.6, label: approxLabel },
        ];
        const rowY = [37.4, 78.4, 119.4, 157.4];
        rows.forEach((r, i) => {
          const cy = a.top + rowY[i];
          ctx.save();
          ctx.strokeStyle = r.color;
          ctx.lineWidth = r.width;
          ctx.lineCap = r.dash.length ? 'butt' : 'round';
          ctx.setLineDash(r.dash);
          seg(ctx, a.left + 26, cy, a.left + 94, cy);
          ctx.restore();
          const m = r.label.match(/^(h\/)(Ψ)(.*)$/);
          const parts: Part[] = m
            ? [{ t: m[1], font: `29px ${SANS}` }, { t: m[2], font: `29px ${SERIF}` }, { t: m[3], font: `29px ${SANS}` }]
            : [{ t: r.label, font: `29px ${SANS}` }];
          drawRich(ctx, parts, a.left + 104, cy + 10.5, 'left');
        });
      }
      ctx.restore();
    },
  };
}

function makeConfig(p: Panel): any {
  const pts = (d: Pt[]) => d.map(([x, y]) => ({ x, y }));
  const approxSets = p.approx.map((d) => ({
    label: approxLabel, data: pts(d), borderColor: '#000', borderWidth: 1.5, borderDash: p.approxDash,
  }));
  const solid = (d: Pt[], color: string, label: string) => ({ label, data: pts(d), borderColor: color, borderWidth: 5 });
  return {
    type: 'line',
    data: {
      datasets: [
        ...approxSets,
        solid(p.orange, ORANGE, seriesLabels[2]),
        solid(p.blue, BLUE, seriesLabels[1]),
        solid(p.green, GREEN, seriesLabels[0]),
      ],
    },
    options: {
      animation: false,
      responsive: false,
      devicePixelRatio: 1,
      layout: { padding: { left: 0, top: p.padTop, right: p.padRight, bottom: 0 } },
      elements: {
        point: { radius: 0 },
        line: { cubicInterpolationMode: 'monotone', fill: false, borderCapStyle: 'butt' },
      },
      plugins: { legend: { display: false }, tooltip: { enabled: false } },
      scales: {
        x: {
          type: 'linear', min: -0.5, max: 0.5,
          grid: { display: false, drawTicks: false },
          border: { display: false },
          ticks: {
            color: '#000', padding: 8, maxRotation: 0, autoSkip: false,
            font: { size: 33, family: SANS },
            callback: (v: number) => Number(v).toFixed(2),
          },
          afterBuildTicks: (s: any) => { s.ticks = xTicks.map((value) => ({ value })); },
          afterFit: (s: any) => { s.height = p.xAxisH; s.paddingLeft = 0; s.paddingRight = 0; },
        },
        y: {
          type: 'linear', min: p.yMin, max: 1.1,
          grid: { display: false, drawTicks: false },
          border: { display: false },
          ticks: {
            color: '#000', padding: 15, autoSkip: false,
            font: { size: 33, family: SANS },
            callback: (v: number) => Number(v).toFixed(1),
          },
          afterBuildTicks: (s: any) => { s.ticks = p.yMajor.map((value) => ({ value })); },
          afterFit: (s: any) => { s.width = p.yAxisW; s.paddingTop = 0; s.paddingBottom = 0; },
        },
      },
    },
    plugins: [makeDecor(p)],
  };
}

function PanelChart({ p }: { p: Panel }) {
  const canvasRef = useRef<HTMLCanvasElement>(null);
  useEffect(() => {
    if (!canvasRef.current) return;
    const chart = new Chart(canvasRef.current, makeConfig(p));
    return () => chart.destroy();
  }, [p]);
  return (
    <canvas
      ref={canvasRef}
      width={p.w}
      height={p.h}
      style={{ position: 'absolute', left: p.left, top: p.top, width: p.w, height: p.h }}
    />
  );
}

export default function App() {
  return (
    <div style={{ position: 'absolute', left: 0, top: 0, width: 1926, height: 1673, overflow: 'hidden', background: '#fff' }}>
      {PANELS.map((p) => <PanelChart key={p.letter} p={p} />)}
      {PANELS.map((p) => (
        <div key={'l' + p.letter}
          style={{ position: 'absolute', left: p.letterPos[0], top: p.letterPos[1], font: `bold 25px ${SANS}`, lineHeight: 1, color: '#000' }}>
          {p.letter}
        </div>
      ))}
    </div>
  );
}
